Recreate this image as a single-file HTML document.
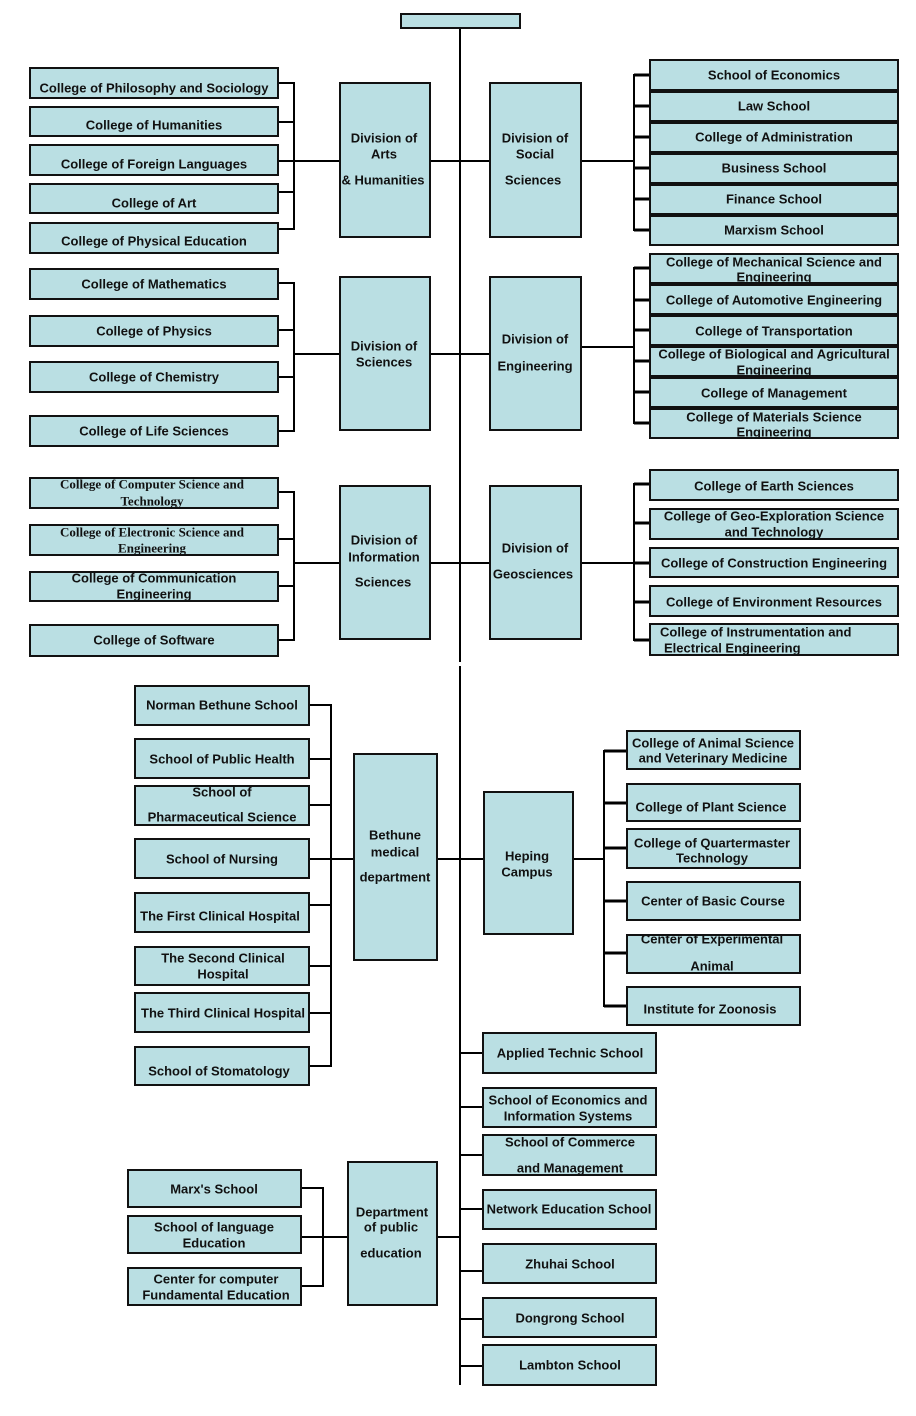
<!DOCTYPE html>
<html><head><meta charset="utf-8"><style>
html,body{margin:0;padding:0;background:#fff;}
svg{display:block;}
text{font-family:"Liberation Sans",Arial,sans-serif;font-weight:bold;font-size:13px;fill:#111;text-anchor:middle;}
text.s{font-family:"Liberation Serif","Times New Roman",serif;}
text.l{text-anchor:start;}
</style></head><body>
<svg width="916" height="1416" viewBox="0 0 916 1416" xmlns="http://www.w3.org/2000/svg">
<defs>
<g id="R">
<rect x="401" y="14" width="119" height="14"/>
<rect x="30" y="68" width="248" height="30"/>
<rect x="30" y="107" width="248" height="29"/>
<rect x="30" y="145" width="248" height="30"/>
<rect x="30" y="184" width="248" height="29"/>
<rect x="30" y="223" width="248" height="30"/>
<rect x="30" y="269" width="248" height="30"/>
<rect x="30" y="316" width="248" height="30"/>
<rect x="30" y="362" width="248" height="30"/>
<rect x="30" y="416" width="248" height="30"/>
<rect x="30" y="478" width="248" height="30"/>
<rect x="30" y="525" width="248" height="30"/>
<rect x="30" y="572" width="248" height="29"/>
<rect x="30" y="625" width="248" height="31"/>
<rect x="340" y="83" width="90" height="154"/>
<rect x="340" y="277" width="90" height="153"/>
<rect x="340" y="486" width="90" height="153"/>
<rect x="490" y="83" width="91" height="154"/>
<rect x="490" y="277" width="91" height="153"/>
<rect x="490" y="486" width="91" height="153"/>
<rect x="650" y="60" width="248" height="30"/>
<rect x="650" y="92" width="248" height="29"/>
<rect x="650" y="123" width="248" height="29"/>
<rect x="650" y="154" width="248" height="29"/>
<rect x="650" y="185" width="248" height="29"/>
<rect x="650" y="216" width="248" height="29"/>
<rect x="650" y="254" width="248" height="29"/>
<rect x="650" y="285" width="248" height="29"/>
<rect x="650" y="316" width="248" height="29"/>
<rect x="650" y="347" width="248" height="29"/>
<rect x="650" y="378" width="248" height="29"/>
<rect x="650" y="409" width="248" height="29"/>
<rect x="650" y="470" width="248" height="30"/>
<rect x="650" y="509" width="248" height="30"/>
<rect x="650" y="548" width="248" height="29"/>
<rect x="650" y="586" width="248" height="30"/>
<rect x="650" y="624" width="248" height="31"/>
<rect x="135" y="686" width="174" height="39"/>
<rect x="135" y="739" width="174" height="39"/>
<rect x="135" y="786" width="174" height="39"/>
<rect x="135" y="839" width="174" height="39"/>
<rect x="135" y="893" width="174" height="39"/>
<rect x="135" y="947" width="174" height="38"/>
<rect x="135" y="993" width="174" height="39"/>
<rect x="135" y="1047" width="174" height="38"/>
<rect x="354" y="754" width="83" height="206"/>
<rect x="484" y="792" width="89" height="142"/>
<rect x="627" y="731" width="173" height="38"/>
<rect x="627" y="784" width="173" height="37"/>
<rect x="627" y="829" width="173" height="39"/>
<rect x="627" y="882" width="173" height="38"/>
<rect x="627" y="935" width="173" height="38"/>
<rect x="627" y="987" width="173" height="38"/>
<rect x="483" y="1033" width="173" height="40"/>
<rect x="483" y="1088" width="173" height="39"/>
<rect x="483" y="1135" width="173" height="40"/>
<rect x="483" y="1190" width="173" height="39"/>
<rect x="483" y="1244" width="173" height="39"/>
<rect x="483" y="1298" width="173" height="39"/>
<rect x="483" y="1345" width="173" height="40"/>
<rect x="128" y="1170" width="173" height="37"/>
<rect x="128" y="1216" width="173" height="37"/>
<rect x="128" y="1268" width="173" height="37"/>
<rect x="348" y="1162" width="89" height="143"/>
</g>
</defs>

<!-- connector lines -->
<g stroke="#000" stroke-width="2" fill="none">
<path d="M460 29V662M460 666V1385"/>
<!-- Arts -->
<path d="M294 82V230M279 83H294M279 122H294M279 161H294M279 192H294M279 229H294M294 161H339M431 161H489M582 161H634M634 74V231"/>
<!-- Sciences / Engineering -->
<path d="M294 282V432M279 283H294M279 330H294M279 377H294M279 431H294M294 354H339M431 354H489M582 347H634M634 267V424"/>
<!-- Info / Geo -->
<path d="M294 491V641M279 492H294M279 539H294M279 586H294M279 640H294M294 563H339M431 563H489M582 563H634M634 483V641"/>
<!-- Bethune -->
<path d="M331 704V1067M310 705H331M310 759H331M310 805H331M310 859H331M310 905H331M310 966H331M310 1013H331M310 1066H331M331 859H353M438 859H483M574 859H604M604 750V1007"/>
<!-- lower right ticks -->
<path d="M460 1053H482M460 1107H482M460 1155H482M460 1209H482M460 1271H482M460 1319H482M460 1366H482"/>
<!-- Dept -->
<path d="M323 1187V1287M302 1188H323M302 1237H323M302 1286H323M323 1237H347M438 1237H460"/>
</g>
<g stroke="#000" stroke-width="3" fill="none">
<path d="M634 75H649M634 106H649M634 137H649M634 168H649M634 199H649M634 230H649"/>
<path d="M634 268H649M634 300H649M634 330H649M634 361H649M634 392H649M634 423H649"/>
<path d="M634 484H649M634 523H649M634 563H649M634 602H649M634 640H649"/>
<path d="M604 751H626M604 803H626M604 848H626M604 901H626M604 953H626M604 1006H626"/>
</g>

<use href="#R" fill="#badfe3" stroke="none"/>

<!-- text -->
<g>
<text x="154" y="92.5">College of Philosophy and Sociology</text>
<text x="154" y="129.5">College of Humanities</text>
<text x="154" y="168.5">College of Foreign Languages</text>
<text x="154" y="207.5">College of Art</text>
<text x="154" y="245.5">College of Physical Education</text>

<text x="384" y="142.5">Division of</text>
<text x="384" y="158.5">Arts</text>
<text x="383" y="184.5">&amp; Humanities</text>

<text x="535" y="142.5">Division of</text>
<text x="535" y="158.5">Social</text>
<text x="533" y="184.5">Sciences</text>

<text x="774" y="79.5">School of Economics</text>
<text x="774" y="110.5">Law School</text>
<text x="774" y="141.5">College of Administration</text>
<text x="774" y="172.5">Business School</text>
<text x="774" y="203.5">Finance School</text>
<text x="774" y="234.5">Marxism School</text>

<text x="154" y="288.5">College of Mathematics</text>
<text x="154" y="335.5">College of Physics</text>
<text x="154" y="381.5">College of Chemistry</text>
<text x="154" y="435.5">College of Life Sciences</text>

<text x="384" y="350.5">Division of</text>
<text x="384" y="366.5">Sciences</text>

<text x="535" y="343.5">Division of</text>
<text x="535" y="370.5">Engineering</text>

<text x="774" y="266.5">College of Mechanical Science and</text>
<text x="774" y="281.5">Engineering</text>
<text x="774" y="304.5">College of Automotive Engineering</text>
<text x="774" y="335.5">College of Transportation</text>
<text x="774" y="358.5">College of Biological and Agricultural</text>
<text x="774" y="374.5">Engineering</text>
<text x="774" y="397.5">College of Management</text>
<text x="774" y="421.5">College of Materials Science</text>
<text x="774" y="436.5">Engineering</text>

<text class="s" x="152" y="488.5">College of Computer Science and</text>
<text class="s" x="152" y="505.5">Technology</text>
<text class="s" x="152" y="536.5">College of Electronic Science and</text>
<text class="s" x="152" y="552.5">Engineering</text>
<text x="154" y="582.5">College of Communication</text>
<text x="154" y="598.5">Engineering</text>
<text x="154" y="644.5">College of Software</text>

<text x="384" y="544.5">Division of</text>
<text x="384" y="561.5">Information</text>
<text x="383" y="586.5">Sciences</text>

<text x="535" y="552.5">Division of</text>
<text x="533" y="578.5">Geosciences</text>

<text x="774" y="490.5">College of Earth Sciences</text>
<text x="774" y="520.5">College of Geo-Exploration Science</text>
<text x="774" y="536.5">and Technology</text>
<text x="774" y="567.5">College of Construction Engineering</text>
<text x="774" y="606.5">College of Environment Resources</text>
<text class="l" x="660" y="636.5">College of Instrumentation and</text>
<text class="l" x="664" y="652.5">Electrical Engineering</text>

<text x="222" y="709.5">Norman Bethune School</text>
<text x="222" y="763.5">School of Public Health</text>
<text x="222" y="796.5">School of</text>
<text x="222" y="821.5">Pharmaceutical Science</text>
<text x="222" y="863.5">School of Nursing</text>
<text x="220" y="920.5">The First Clinical Hospital</text>
<text x="223" y="962.5">The Second Clinical</text>
<text x="223" y="978.5">Hospital</text>
<text x="223" y="1017.5">The Third Clinical Hospital</text>
<text x="219" y="1075.5">School of Stomatology</text>

<text x="395" y="839.5">Bethune</text>
<text x="395" y="856.5">medical</text>
<text x="395" y="881.5">department</text>

<text x="527" y="860.5">Heping</text>
<text x="527" y="876.5">Campus</text>

<text x="713" y="747.5">College of Animal Science</text>
<text x="713" y="762.5">and Veterinary Medicine</text>
<text x="711" y="811.5">College of Plant Science</text>
<text x="712" y="847.5">College of Quartermaster</text>
<text x="712" y="862.5">Technology</text>
<text x="713" y="905.5">Center of Basic Course</text>
<text x="712" y="943.5">Center of Experimental</text>
<text x="712" y="970.5">Animal</text>
<text x="710" y="1013.5">Institute for Zoonosis</text>

<text x="570" y="1057.5">Applied Technic School</text>
<text x="568" y="1104.5">School of Economics and</text>
<text x="568" y="1120.5">Information Systems</text>
<text x="570" y="1146.5">School of Commerce</text>
<text x="570" y="1172.5">and Management</text>
<text x="569" y="1213.5">Network Education School</text>
<text x="570" y="1268.5">Zhuhai School</text>
<text x="570" y="1322.5">Dongrong School</text>
<text x="570" y="1369.5">Lambton School</text>

<text x="214" y="1193.5">Marx's School</text>
<text x="214" y="1231.5">School of language</text>
<text x="214" y="1247.5">Education</text>
<text x="216" y="1283.5">Center for computer</text>
<text x="216" y="1299.5">Fundamental Education</text>

<text x="392" y="1216.5">Department</text>
<text x="391" y="1231.5">of public</text>
<text x="391" y="1257.5">education</text>
</g>

<use href="#R" fill="none" stroke="#111" stroke-width="2"/>
</svg>
</body></html>
